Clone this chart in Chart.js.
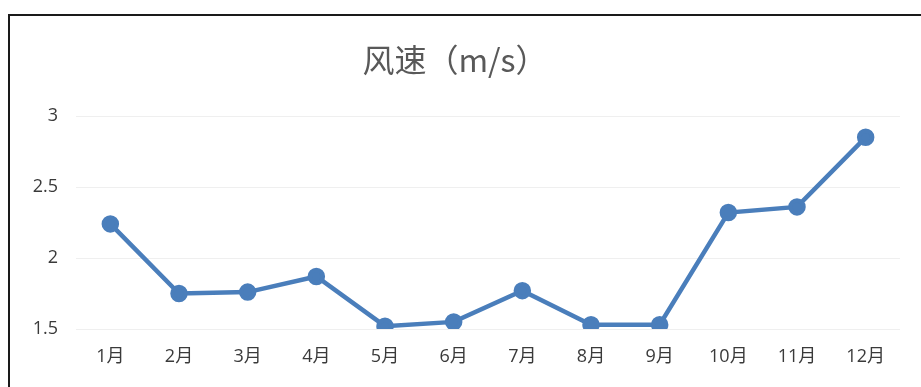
<!DOCTYPE html>
<html lang="zh">

<head>
    <meta charset="UTF-8">
    <meta name="viewport" content="width=device-width, initial-scale=1.0">
    <script src="https://cdn.jsdelivr.net/npm/chart.js@4.4.0/dist/chart.umd.min.js"></script>
    <title>风速</title>
    <style>
        html, body { margin: 0; padding: 0; background: #fff; }
        .frame {
            position: absolute;
            left: 8px; top: 14px;
            width: 911px; height: 371px;
            border-left: 2px solid #1a1a1a;
            border-top: 2px solid #1a1a1a;
        }
    </style>
</head>

<body>
    <div class="frame">
        <canvas id="myChart" width="911" height="371"></canvas>
    </div>

    <script>
const months = ['1月', '2月', '3月', '4月', '5月', '6月', '7月', '8月', '9月', '10月', '11月', '12月']
const windSpeed = [2.24, 1.75, 1.76, 1.87, 1.52, 1.55, 1.77, 1.53, 1.53, 2.32, 2.36, 2.85]
const yTicks = [1.5, 2, 2.5, 3]

const lineBlue = '#4a7ebb'
const textGray = '#3a3a3a'
const fontFamily = "'Open Sans', 'Noto Sans CJK SC', sans-serif"

const ctx = document.getElementById('myChart').getContext('2d')
const myChart = new Chart(ctx, {
    type: 'line',
    data: {
        labels: months,
        datasets: [{
            label: '风速（m/s）',
            data: windSpeed,
            borderColor: lineBlue,
            backgroundColor: lineBlue,
            borderWidth: 4.5,
            pointRadius: 6.5,
            pointHoverRadius: 6.5,
            tension: 0
        }]
    },
    options: {
        responsive: false,
        animation: false,
        layout: { padding: { left: 0, right: 21, top: 0, bottom: 0 } },
        plugins: {
            legend: { display: false },
            tooltip: { enabled: false },
            title: {
                display: true,
                text: '风速（m/s）',
                color: '#595959',
                font: { family: "'Noto Sans CJK SC', sans-serif", size: 32, weight: 'normal' },
                padding: { top: 25, bottom: 36.6 }
            }
        },
        scales: {
            x: {
                offset: true,
                grid: { display: false, drawTicks: false },
                border: { display: false },
                ticks: { color: textGray, padding: 17, font: { family: fontFamily, size: 18 } },
                afterFit: (scale) => { scale.height = 58 }
            },
            y: {
                min: 1.5,
                max: 3,
                afterBuildTicks: (scale) => { scale.ticks = yTicks.map(v => ({ value: v })) },
                grid: { color: '#efefef', lineWidth: 1, drawTicks: false },
                border: { display: false },
                ticks: {
                    color: textGray,
                    padding: 18,
                    font: { family: fontFamily, size: 18 },
                    callback: (v) => String(v)
                },
                afterFit: (scale) => { scale.width = 66 }
            }
        }
    }
})
    </script>
</body>

</html>
